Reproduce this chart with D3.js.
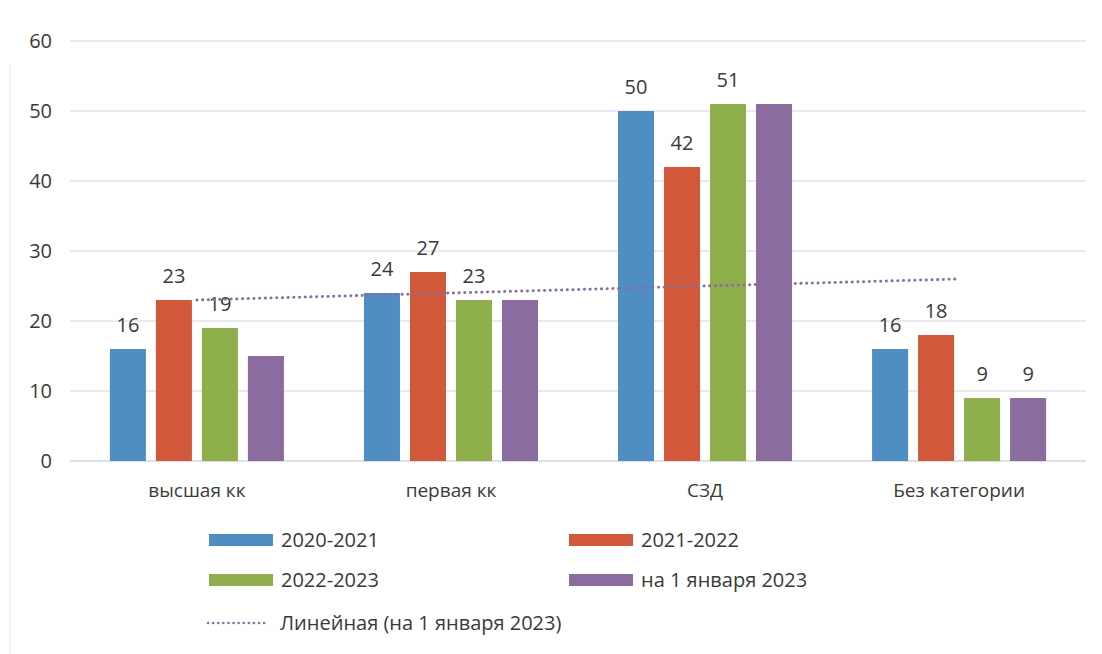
<!DOCTYPE html>
<html>
<head>
<meta charset="utf-8">
<script src="https://cdn.jsdelivr.net/npm/d3@7"></script>
<style>
  body { margin: 0; background: #fff; }
  svg text { font-family: "Open Sans", "Noto Sans", sans-serif; fill: #3a3a3a; }
</style>
</head>
<body>
<div id="chart"></div>
<script>
// data
const categories = ["высшая кк", "первая кк", "СЗД", "Без категории"];
const seriesNames = ["2020-2021", "2021-2022", "2022-2023", "на 1 января 2023"];
const s2020 = [16, 24, 50, 16];
const s2021 = [23, 27, 42, 18];
const s2022 = [19, 23, 51, 9];
const sJan2023 = [15, 23, 51, 9];
// which bars carry a value label in the picture
const labelShown = [
  [true, true, true, true],
  [true, true, true, true],
  [true, true, true, true],
  [false, false, false, true]
];
const yTicks = [0, 10, 20, 30, 40, 50, 60];
const trendName = "Линейная (на 1 января 2023)";

const colors = ["#4f8dc3", "#d2583c", "#8fae4c", "#8a6c9e"];
const allSeries = [s2020, s2021, s2022, sJan2023];

const width = 1102, height = 654;
const margin = {top: 41, right: 16, bottom: 193, left: 70};

const svg = d3.select("#chart").append("svg")
  .attr("width", width)
  .attr("height", height);

// faint border of the chart frame
svg.append("line")
  .attr("x1", 10).attr("x2", 10).attr("y1", 63).attr("y2", height)
  .attr("stroke", "#ececec").attr("stroke-width", 1.5);

const g = svg.append("g")
  .attr("transform", `translate(${margin.left}, ${margin.top})`);

const innerW = width - margin.left - margin.right;
const innerH = height - margin.top - margin.bottom;

let x = d3.scaleBand()
  .domain(categories)
  .range([0, innerW])
  .paddingInner(0.315)
  .paddingOuter(0.157);

let xs = d3.scaleBand()
  .domain(d3.range(allSeries.length))
  .range([0, x.bandwidth()])
  .paddingInner(0.217);

let y = d3.scaleLinear()
  .domain([0, 60])
  .range([innerH, 0]);

// gridlines
g.append("g")
  .selectAll("line")
  .data(yTicks)
  .enter().append("line")
  .attr("x1", 0).attr("x2", innerW)
  .attr("y1", d => y(d)).attr("y2", d => y(d))
  .attr("stroke", d => d === 0 ? "#d4d4dc" : "#e2e2ea")
  .attr("stroke-width", 1.3);

// y axis labels
let yAxis = g.append("g")
  .call(d3.axisLeft(y).tickValues(yTicks).tickSize(0).tickPadding(18));
yAxis.select(".domain").remove();
yAxis.selectAll("text").style("font-size", "20px").attr("fill", "#3a3a3a");

// x axis labels
let xAxis = g.append("g")
  .attr("transform", `translate(0, ${innerH})`)
  .call(d3.axisBottom(x).tickSize(0).tickPadding(23));
xAxis.select(".domain").remove();
xAxis.selectAll("text").style("font-size", "19px").attr("fill", "#444");

// bars
const groups = g.selectAll(".grp")
  .data(categories)
  .enter().append("g")
  .attr("class", "grp")
  .attr("transform", d => `translate(${x(d)}, 0)`);

groups.selectAll("rect")
  .data((c, ci) => allSeries.map((s, si) => ({si: si, v: s[ci]})))
  .enter().append("rect")
  .attr("x", d => xs(d.si))
  .attr("y", d => y(d.v))
  .attr("width", xs.bandwidth())
  .attr("height", d => innerH - y(d.v))
  .attr("fill", d => colors[d.si]);

// trend line (linear fit of last series)
const xsIdx = d3.range(1, categories.length + 1);
const mx = d3.mean(xsIdx), my = d3.mean(sJan2023);
const slope = d3.sum(xsIdx, (v, i) => (v - mx) * (sJan2023[i] - my)) /
              d3.sum(xsIdx, v => (v - mx) * (v - mx));
const trend = xsIdx.map(v => my + slope * (v - mx));

g.append("path")
  .datum(trend)
  .attr("d", d3.line()
    .x((d, i) => x(categories[i]) + x.bandwidth() / 2)
    .y(d => y(d)))
  .attr("fill", "none")
  .attr("stroke", "#8a6c9e")
  .attr("stroke-width", 3)
  .attr("stroke-dasharray", "0.1 5.6")
  .attr("stroke-linecap", "round");

// value labels
groups.selectAll(".lbl")
  .data((c, ci) => allSeries.map((s, si) => ({si: si, v: s[ci], show: labelShown[si][ci]}))
    .filter(d => d.show))
  .enter().append("text")
  .attr("class", "lbl")
  .attr("x", d => xs(d.si) + xs.bandwidth() / 2)
  .attr("y", d => y(d.v) - 17)
  .attr("text-anchor", "middle")
  .style("font-size", "20px")
  .text(d => d.v);

// legend
const legendItems = [
  {name: seriesNames[0], c: colors[0], x: 209, y: 540},
  {name: seriesNames[1], c: colors[1], x: 569, y: 540},
  {name: seriesNames[2], c: colors[2], x: 209, y: 580},
  {name: seriesNames[3], c: colors[3], x: 569, y: 580}
];
const leg = svg.append("g");
legendItems.forEach(d => {
  leg.append("rect")
    .attr("x", d.x).attr("y", d.y - 6)
    .attr("width", 64).attr("height", 12)
    .attr("fill", d.c);
  leg.append("text")
    .attr("x", d.x + 72).attr("y", d.y + 7)
    .style("font-size", "20px")
    .text(d.name);
});
leg.append("line")
  .attr("x1", 208).attr("x2", 268)
  .attr("y1", 623).attr("y2", 623)
  .attr("stroke", "#8a6c9e")
  .attr("stroke-width", 2.5)
  .attr("stroke-dasharray", "0.1 5")
  .attr("stroke-linecap", "round");
leg.append("text")
  .attr("x", 280).attr("y", 630)
  .style("font-size", "20px")
  .text(trendName);
</script>
</body>
</html>
